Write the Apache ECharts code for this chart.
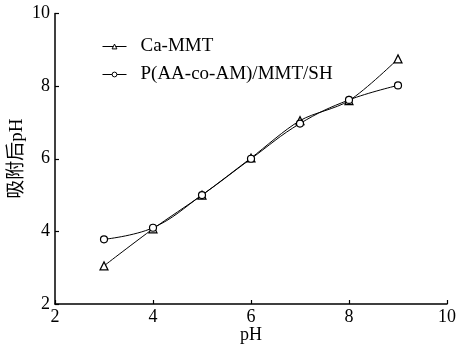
<!DOCTYPE html>
<html><head><meta charset="utf-8">
<script src="https://cdn.jsdelivr.net/npm/echarts@6/dist/echarts.min.js"></script>
<style>html,body{margin:0;padding:0;background:#fff}#c{width:457px;height:347px}</style>
</head><body><div id="c"></div>
<script>
const xValues = [3, 4, 5, 6, 7, 8, 9];
const caMMT = [3.05, 4.07, 5.0, 6.02, 7.05, 7.6, 8.75];
const pAAMMT = [3.78, 4.1, 5.0, 6.0, 6.97, 7.62, 8.02];
const seriesNames = ['Ca-MMT', 'P(AA-co-AM)/MMT/SH'];
const xTicks = [2, 4, 6, 8, 10];
const yTicks = [2, 4, 6, 8, 10];

const font = '"Liberation Serif", "Times New Roman", serif';
const chart = echarts.init(document.getElementById('c'));
function pts(ys){ return xValues.map((x,i)=>[x, ys[i]]); }
const axisCommon = {
  axisLine:{show:true, lineStyle:{color:'#000', width:1.5}},
  axisTick:{show:true, inside:true, length:4, lineStyle:{color:'#000', width:1.2}},
  splitLine:{show:false}
};
chart.setOption({
  animation:false,
  grid:{left:55, right:10, top:13.5, bottom:43, containLabel:false, outerBoundsMode:'none'},
  legend:{
    left:97, top:32, orient:'vertical', itemGap:9, itemWidth:24, itemHeight:6,
    textStyle:{color:'#000', fontFamily:font, fontSize:19, padding:[0,0,0,9]},
    lineStyle:{width:1, color:'#000'},
    itemStyle:{color:'#fff', borderColor:'#000', borderWidth:1},
    data:seriesNames
  },
  xAxis:Object.assign({type:'value', min:xTicks[0], max:xTicks[xTicks.length-1], interval:2,
    name:'pH', nameLocation:'middle', nameGap:22, nameMoveOverlap:false,
    nameTextStyle:{color:'#000', fontFamily:font, fontSize:18},
    axisLabel:{color:'#000', fontFamily:font, fontSize:18, margin:4}}, axisCommon),
  yAxis:Object.assign({type:'value', min:yTicks[0], max:yTicks[yTicks.length-1], interval:2,
    name:'吸附后pH', nameLocation:'middle', nameGap:28, nameMoveOverlap:false,
    nameTextStyle:{color:'#000', fontFamily:'"Liberation Serif", "Noto Sans CJK SC", serif', fontSize:19},
    axisLabel:{color:'#000', fontFamily:font, fontSize:18, margin:5}}, axisCommon),
  series:[
    {name:seriesNames[0], type:'line', data:pts(caMMT), smooth:0.3, symbol:'triangle', symbolSize:8,
     lineStyle:{color:'#000', width:1}, itemStyle:{color:'#fff', borderColor:'#000', borderWidth:1.2}},
    {name:seriesNames[1], type:'line', data:pts(pAAMMT), smooth:0.4, symbol:'circle', symbolSize:7,
     lineStyle:{color:'#000', width:1}, itemStyle:{color:'#fff', borderColor:'#000', borderWidth:1.2}}
  ]
});
</script></body></html>
